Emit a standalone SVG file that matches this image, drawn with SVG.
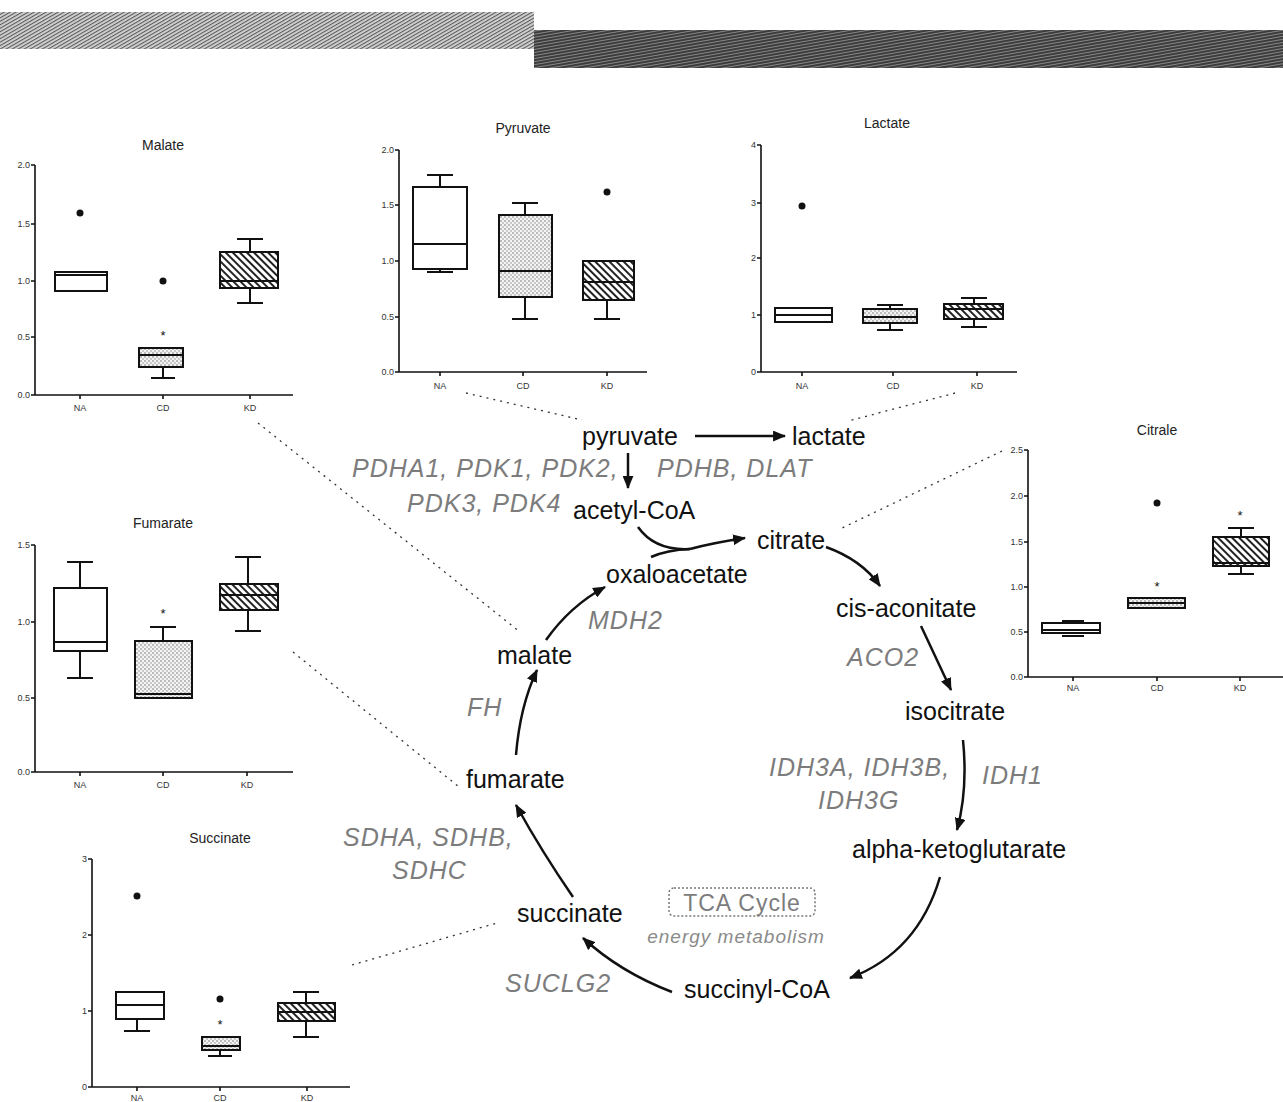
<svg xmlns="http://www.w3.org/2000/svg" width="1283" height="1102" viewBox="0 0 1283 1102">
<defs>
<style>
.ax{stroke:#111;stroke-width:1.6;fill:none}
.bx{stroke:#111;stroke-width:2;}
.wk{stroke:#111;stroke-width:2;fill:none}
.tk{font-family:"Liberation Sans",Arial,sans-serif;font-size:9px;fill:#333;text-anchor:end}
.xl{font-family:"Liberation Sans",Arial,sans-serif;font-size:9px;fill:#333;text-anchor:middle}
.ct{font-family:"Liberation Sans",Arial,sans-serif;font-size:14px;fill:#222;text-anchor:middle}
.st{font-family:"Liberation Sans",Arial,sans-serif;font-size:13px;fill:#111;text-anchor:middle}
.m{font-family:"Liberation Sans",Arial,sans-serif;font-size:25px;fill:#111}
.g{font-family:"Liberation Sans",Arial,sans-serif;font-size:25px;font-style:italic;fill:#7c7c7c;letter-spacing:1px}
.arr{stroke:#111;stroke-width:2.5;fill:none;marker-end:url(#ah)}
.arrn{stroke:#111;stroke-width:2.5;fill:none}
.dot{stroke:#333;stroke-width:1.3;fill:none;stroke-dasharray:2 5}
</style>
<marker id="ah" viewBox="0 0 12 10" refX="11" refY="5" markerWidth="13" markerHeight="11" orient="auto" markerUnits="userSpaceOnUse"><path d="M0,0 L12,5 L0,10 z" fill="#111"/></marker>
<pattern id="stip" width="4" height="4" patternUnits="userSpaceOnUse"><rect width="4" height="4" fill="#f4f4f4"/><circle cx="1" cy="1" r="0.75" fill="#666"/><circle cx="3" cy="3" r="0.75" fill="#888"/></pattern>
<pattern id="hatch" width="5" height="5" patternUnits="userSpaceOnUse" patternTransform="rotate(-45)"><rect width="5" height="5" fill="#fff"/><line x1="1" y1="0" x2="1" y2="5" stroke="#222" stroke-width="2"/></pattern>
<pattern id="barL" width="3" height="3" patternUnits="userSpaceOnUse" patternTransform="rotate(60)"><rect width="3" height="3" fill="#d6d6d6"/><line x1="0.6" y1="0" x2="0.6" y2="3" stroke="#555" stroke-width="1.1"/></pattern>
<pattern id="barR" width="3" height="3" patternUnits="userSpaceOnUse" patternTransform="rotate(80)"><rect width="3" height="3" fill="#3c3c3c"/><line x1="0.5" y1="0" x2="0.5" y2="3" stroke="#9a9a9a" stroke-width="0.8"/></pattern>
</defs>
<rect width="1283" height="1102" fill="#fff"/>

<g id="top-bars">
<rect x="0" y="12" width="534" height="37" fill="url(#barL)"/>
<rect x="534" y="30" width="749" height="38" fill="url(#barR)"/>
</g>

<!-- Malate chart -->
<g id="chart-malate">
<text class="ct" x="163" y="150">Malate</text>
<path class="ax" d="M35,165 V395 H293 M31,165 H35 M31,224 H35 M31,281 H35 M31,337 H35 M31,395 H35 M80,395 V399 M163,395 V399 M250,395 V399"/>
<text class="tk" x="30" y="168">2.0</text><text class="tk" x="30" y="227">1.5</text><text class="tk" x="30" y="284">1.0</text><text class="tk" x="30" y="340">0.5</text><text class="tk" x="30" y="398">0.0</text>
<text class="xl" x="80" y="411">NA</text><text class="xl" x="163" y="411">CD</text><text class="xl" x="250" y="411">KD</text>
<rect class="bx" x="55" y="272" width="52" height="19" fill="#fff"/><path class="wk" d="M55,275 H107"/>
<circle cx="80" cy="213" r="3.5" fill="#111"/>
<path class="wk" d="M163,367 V378 M151,378 H175"/>
<rect class="bx" x="139" y="348" width="44" height="19" fill="url(#stip)"/><path class="wk" d="M139,355 H183"/>
<circle cx="163" cy="281" r="3.5" fill="#111"/>
<text class="st" x="163" y="340">*</text>
<path class="wk" d="M250,252 V239 M237,239 H263 M250,288 V303 M237,303 H263"/>
<rect class="bx" x="220" y="252" width="58" height="36" fill="url(#hatch)"/><path class="wk" d="M220,281 H278"/>
</g>

<!-- Pyruvate chart -->
<g id="chart-pyruvate">
<text class="ct" x="523" y="133">Pyruvate</text>
<path class="ax" d="M399,150 V372 H647 M395,150 H399 M395,205 H399 M395,261 H399 M395,317 H399 M395,372 H399 M440,372 V376 M523,372 V376 M607,372 V376"/>
<text class="tk" x="394" y="153">2.0</text><text class="tk" x="394" y="208">1.5</text><text class="tk" x="394" y="264">1.0</text><text class="tk" x="394" y="320">0.5</text><text class="tk" x="394" y="375">0.0</text>
<text class="xl" x="440" y="389">NA</text><text class="xl" x="523" y="389">CD</text><text class="xl" x="607" y="389">KD</text>
<path class="wk" d="M440,187 V175 M427,175 H453 M440,269 V272 M427,272 H453"/>
<rect class="bx" x="413" y="187" width="54" height="82" fill="#fff"/><path class="wk" d="M413,244 H467"/>
<path class="wk" d="M525,215 V203 M512,203 H538 M525,297 V319 M512,319 H538"/>
<rect class="bx" x="499" y="215" width="53" height="82" fill="url(#stip)"/><path class="wk" d="M499,271 H552"/>
<path class="wk" d="M607,300 V319 M594,319 H620"/>
<rect class="bx" x="583" y="261" width="51" height="39" fill="url(#hatch)"/><path class="wk" d="M583,282 H634"/>
<circle cx="607" cy="192" r="3.5" fill="#111"/>
</g>

<!-- Lactate chart -->
<g id="chart-lactate">
<text class="ct" x="887" y="128">Lactate</text>
<path class="ax" d="M761,145 V372 H1017 M757,145 H761 M757,203 H761 M757,258 H761 M757,315 H761 M757,372 H761 M802,372 V376 M893,372 V376 M977,372 V376"/>
<text class="tk" x="756" y="148">4</text><text class="tk" x="756" y="206">3</text><text class="tk" x="756" y="261">2</text><text class="tk" x="756" y="318">1</text><text class="tk" x="756" y="375">0</text>
<text class="xl" x="802" y="389">NA</text><text class="xl" x="893" y="389">CD</text><text class="xl" x="977" y="389">KD</text>
<rect class="bx" x="775" y="308" width="57" height="14" fill="#fff"/><path class="wk" d="M775,315 H832"/>
<circle cx="802" cy="206" r="3.5" fill="#111"/>
<path class="wk" d="M890,309 V305 M877,305 H903 M890,323 V330 M877,330 H903"/>
<rect class="bx" x="863" y="309" width="54" height="14" fill="url(#stip)"/><path class="wk" d="M863,317 H917"/>
<path class="wk" d="M974,304 V298 M961,298 H987 M974,319 V327 M961,327 H987"/>
<rect class="bx" x="944" y="304" width="59" height="15" fill="url(#hatch)"/><path class="wk" d="M944,309 H1003"/>
</g>

<!-- Citrate chart -->
<g id="chart-citrate">
<text class="ct" x="1157" y="435">Citrale</text>
<path class="ax" d="M1028,450 V677 H1283 M1024,450 H1028 M1024,496 H1028 M1024,542 H1028 M1024,587 H1028 M1024,632 H1028 M1024,677 H1028 M1073,677 V681 M1157,677 V681 M1240,677 V681"/>
<text class="tk" x="1023" y="453">2.5</text><text class="tk" x="1023" y="499">2.0</text><text class="tk" x="1023" y="545">1.5</text><text class="tk" x="1023" y="590">1.0</text><text class="tk" x="1023" y="635">0.5</text><text class="tk" x="1023" y="680">0.0</text>
<text class="xl" x="1073" y="691">NA</text><text class="xl" x="1157" y="691">CD</text><text class="xl" x="1240" y="691">KD</text>
<path class="wk" d="M1062,621 H1084 M1062,636 H1084"/>
<rect class="bx" x="1042" y="623" width="58" height="10" fill="#fff"/><path class="wk" d="M1042,630 H1100"/>
<rect class="bx" x="1128" y="598" width="57" height="10" fill="url(#stip)"/><path class="wk" d="M1128,603 H1185"/>
<circle cx="1157" cy="503" r="3.5" fill="#111"/>
<text class="st" x="1157" y="591">*</text>
<path class="wk" d="M1241,537 V528 M1228,528 H1254 M1241,566 V574 M1228,574 H1254"/>
<rect class="bx" x="1213" y="537" width="56" height="29" fill="url(#hatch)"/><path class="wk" d="M1213,563 H1269"/>
<text class="st" x="1240" y="520">*</text>
</g>

<!-- Fumarate chart -->
<g id="chart-fumarate">
<text class="ct" x="163" y="528">Fumarate</text>
<path class="ax" d="M35,545 V772 H293 M31,545 H35 M31,622 H35 M31,698 H35 M31,772 H35 M80,772 V776 M163,772 V776 M247,772 V776"/>
<text class="tk" x="30" y="548">1.5</text><text class="tk" x="30" y="625">1.0</text><text class="tk" x="30" y="701">0.5</text><text class="tk" x="30" y="775">0.0</text>
<text class="xl" x="80" y="788">NA</text><text class="xl" x="163" y="788">CD</text><text class="xl" x="247" y="788">KD</text>
<path class="wk" d="M80,588 V562 M67,562 H93 M80,651 V678 M67,678 H93"/>
<rect class="bx" x="54" y="588" width="53" height="63" fill="#fff"/><path class="wk" d="M54,642 H107"/>
<path class="wk" d="M163,641 V627 M150,627 H176"/>
<rect class="bx" x="135" y="641" width="57" height="57" fill="url(#stip)"/><path class="wk" d="M135,694 H192"/>
<text class="st" x="163" y="618">*</text>
<path class="wk" d="M248,584 V557 M235,557 H261 M248,610 V631 M235,631 H261"/>
<rect class="bx" x="220" y="584" width="58" height="26" fill="url(#hatch)"/><path class="wk" d="M220,595 H278"/>
</g>

<!-- Succinate chart -->
<g id="chart-succinate">
<text class="ct" x="220" y="843">Succinate</text>
<path class="ax" d="M92,859 V1087 H350 M88,859 H92 M88,935 H92 M88,1011 H92 M88,1087 H92 M137,1087 V1091 M220,1087 V1091 M307,1087 V1091"/>
<text class="tk" x="87" y="862">3</text><text class="tk" x="87" y="938">2</text><text class="tk" x="87" y="1014">1</text><text class="tk" x="87" y="1090">0</text>
<text class="xl" x="137" y="1101">NA</text><text class="xl" x="220" y="1101">CD</text><text class="xl" x="307" y="1101">KD</text>
<path class="wk" d="M137,1019 V1031 M124,1031 H150"/>
<rect class="bx" x="116" y="992" width="48" height="27" fill="#fff"/><path class="wk" d="M116,1005 H164"/>
<circle cx="137" cy="896" r="3.5" fill="#111"/>
<path class="wk" d="M220,1050 V1056 M208,1056 H232"/>
<rect class="bx" x="202" y="1037" width="38" height="13" fill="url(#stip)"/><path class="wk" d="M202,1046 H240"/>
<circle cx="220" cy="999" r="3.5" fill="#111"/>
<text class="st" x="220" y="1029">*</text>
<path class="wk" d="M306,1003 V992 M293,992 H319 M306,1021 V1037 M293,1037 H319"/>
<rect class="bx" x="278" y="1003" width="57" height="18" fill="url(#hatch)"/><path class="wk" d="M278,1012 H335"/>
</g>

<!-- connectors -->
<g id="connectors">
<path class="dot" d="M258,423 L520,632"/>
<path class="dot" d="M466,393 L582,420"/>
<path class="dot" d="M955,393 L848,421"/>
<path class="dot" d="M1002,451 L838,530"/>
<path class="dot" d="M293,652 L459,787"/>
<path class="dot" d="M352,965 L497,923"/>
<path class="arr" d="M695,436 L785,436"/>
<path class="arr" d="M628,453 L628,488"/>
<path class="arrn" d="M638,527 Q655,551 690,549"/>
<path class="arrn" d="M651,557 Q667,550 690,549"/>
<path class="arr" d="M690,549 Q712,543 745,538"/>
<path class="arr" d="M826,547 Q862,560 880,586"/>
<path class="arr" d="M921,626 L951,690"/>
<path class="arr" d="M963,740 Q968,790 957,830"/>
<path class="arr" d="M940,877 Q918,952 850,978"/>
<path class="arr" d="M672,992 Q620,972 583,938"/>
<path class="arr" d="M573,897 Q542,852 516,805"/>
<path class="arr" d="M516,755 Q520,706 537,670"/>
<path class="arr" d="M546,640 Q570,606 605,587"/>
</g>

<!-- metabolite nodes -->
<g id="n-pyruvate"><text class="m" x="582" y="445">pyruvate</text></g>
<g id="n-lactate"><text class="m" x="792" y="445">lactate</text></g>
<g id="n-acetylcoa"><text class="m" x="573" y="519">acetyl-CoA</text></g>
<g id="n-citrate"><text class="m" x="757" y="549">citrate</text></g>
<g id="n-oxaloacetate"><text class="m" x="606" y="583">oxaloacetate</text></g>
<g id="n-cisaconitate"><text class="m" x="836" y="617">cis-aconitate</text></g>
<g id="n-isocitrate"><text class="m" x="905" y="720">isocitrate</text></g>
<g id="n-akg"><text class="m" x="852" y="858">alpha-ketoglutarate</text></g>
<g id="n-succinylcoa"><text class="m" x="684" y="998">succinyl-CoA</text></g>
<g id="n-succinate"><text class="m" x="517" y="922">succinate</text></g>
<g id="n-fumarate"><text class="m" x="466" y="788">fumarate</text></g>
<g id="n-malate"><text class="m" x="497" y="664">malate</text></g>

<!-- gene labels -->
<g id="genes">
<text class="g" x="352" y="477">PDHA1, PDK1, PDK2,</text>
<text class="g" x="657" y="477">PDHB, DLAT</text>
<text class="g" x="407" y="512">PDK3, PDK4</text>
<text class="g" x="588" y="629">MDH2</text>
<text class="g" x="847" y="666">ACO2</text>
<text class="g" x="467" y="716">FH</text>
<text class="g" x="769" y="776">IDH3A, IDH3B,</text>
<text class="g" x="818" y="809">IDH3G</text>
<text class="g" x="982" y="784">IDH1</text>
<text class="g" x="343" y="846">SDHA, SDHB,</text>
<text class="g" x="392" y="879">SDHC</text>
<text class="g" x="505" y="992">SUCLG2</text>
</g>

<g id="tca-label">
<rect x="669" y="888" width="146" height="28" rx="5" fill="none" stroke="#777" stroke-width="1.5" stroke-dasharray="2 2"/>
<text x="742" y="911" text-anchor="middle" font-family="Liberation Sans, Arial, sans-serif" font-size="23" fill="#7c7c7c" letter-spacing="1">TCA Cycle</text>
<text x="736" y="943" text-anchor="middle" font-family="Liberation Sans, Arial, sans-serif" font-size="19" font-style="italic" fill="#8a8a8a" letter-spacing="1">energy metabolism</text>
</g>
</svg>
